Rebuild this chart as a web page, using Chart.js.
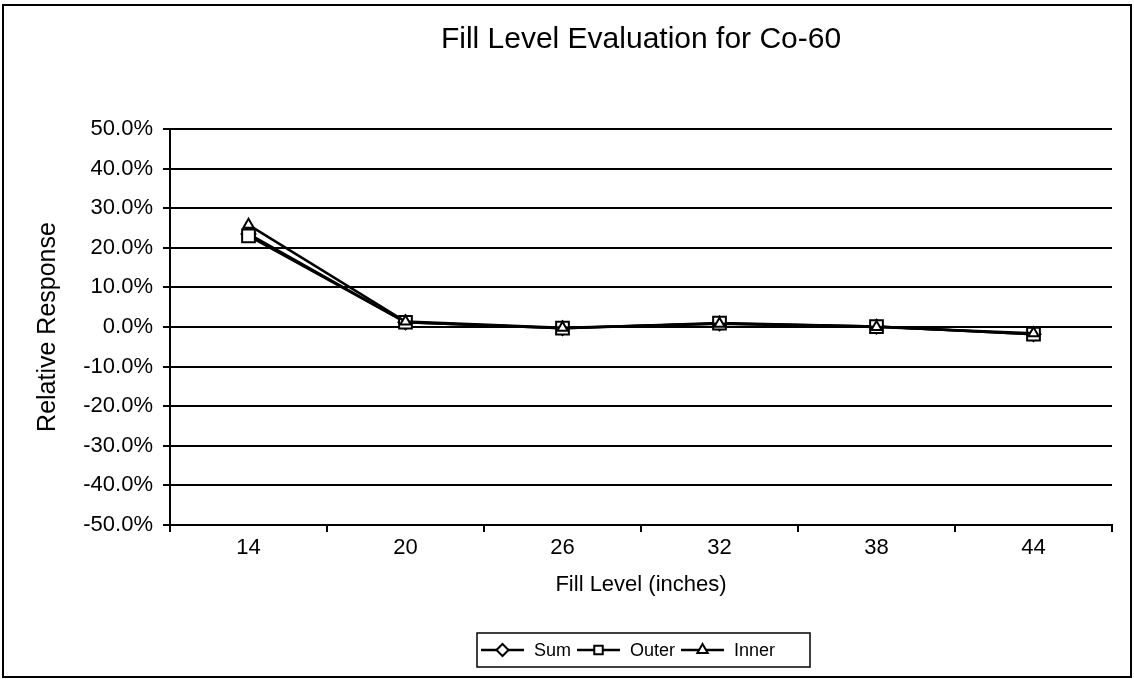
<!DOCTYPE html>
<html>
<head>
<meta charset="utf-8">
<script src="https://cdn.jsdelivr.net/npm/chart.js@4"></script>
<style>
  html, body { margin: 0; padding: 0; background: #fff; }
  #wrap { width: 1134px; height: 679px; }
</style>
</head>
<body>
<div id="wrap"><canvas id="chart" width="1134" height="679"></canvas></div>
<script>
// --- datos ---
const fillLevels = ['14', '20', '26', '32', '38', '44'];
const sumValues = [23.5, 1.2, -0.3, 0.9, 0.1, -1.8];
const outerValues = [23.0, 1.2, -0.3, 1.0, 0.1, -1.8];
const innerValues = [25.8, 1.4, -0.2, 0.8, 0.0, -1.6];
const yTicks = [-50, -40, -30, -20, -10, 0, 10, 20, 30, 40, 50];

const FONT = "'Liberation Sans', Arial, sans-serif";

// marco exterior + leyenda con línea y marcador
const framePlugin = {
    id: 'frame',
    afterDraw(chart) {
        const ctx = chart.ctx;
        ctx.save();
        ctx.strokeStyle = '#000';
        ctx.lineWidth = 2;
        ctx.strokeRect(3, 5, 1128, 672);

        // leyenda
        ctx.font = '18px ' + FONT;
        ctx.textBaseline = 'middle';
        const items = chart.data.datasets;
        const lineW = 43, gap = 10, sep = 6;
        const boxL = 477, boxR = 810, boxT = 633, boxB = 667;
        ctx.lineWidth = 1.5;
        ctx.strokeRect(boxL, boxT, boxR - boxL, boxB - boxT);
        let x = boxL + 4;
        const y = (boxT + boxB) / 2;
        items.forEach(d => {
            ctx.strokeStyle = '#000';
            ctx.lineWidth = 2.5;
            ctx.beginPath();
            ctx.moveTo(x, y);
            ctx.lineTo(x + lineW, y);
            ctx.stroke();
            ctx.fillStyle = '#fff';
            ctx.lineWidth = 2;
            Chart.helpers.drawPoint(ctx, {
                pointStyle: d.pointStyle, radius: 6, rotation: 0, borderWidth: 2
            }, x + lineW / 2, y);
            ctx.fillStyle = '#000';
            ctx.fillText(d.label, x + lineW + gap, y + 1);
            x += lineW + gap + ctx.measureText(d.label).width + sep;
        });
        ctx.restore();
    }
};

const mkSet = (label, data, style, radius, order) => ({
    label: label,
    data: data,
    order: order,
    borderColor: '#000',
    borderWidth: 2.5,
    pointStyle: style,
    pointRadius: radius,
    pointBackgroundColor: '#fff',
    pointBorderColor: '#000',
    pointBorderWidth: 2,
    tension: 0
});

new Chart(document.getElementById('chart').getContext('2d'), {
    type: 'line',
    data: {
        labels: fillLevels,
        datasets: [
            mkSet('Sum', sumValues, 'rectRot', 7, 3),
            mkSet('Outer', outerValues, 'rect', 9, 2),
            mkSet('Inner', innerValues, 'triangle', 6, 1)
        ]
    },
    options: {
        responsive: false,
        animation: false,
        devicePixelRatio: 1,
        layout: { padding: { top: 0, left: 0, right: 22, bottom: 64 } },
        plugins: {
            legend: { display: false },
            tooltip: { enabled: false },
            title: {
                display: true,
                fullSize: false,
                text: 'Fill Level Evaluation for Co-60',
                color: '#000',
                font: { family: FONT, size: 30, weight: 'normal' },
                padding: { top: 22, bottom: 71 }
            }
        },
        scales: {
            x: {
                offset: true,
                grid: { display: true, offset: true, drawOnChartArea: false, color: '#000', lineWidth: 2, tickLength: 7 },
                border: { display: true, color: '#000', width: 2 },
                ticks: { color: '#000', padding: 3, font: { family: FONT, size: 22 } },
                title: {
                    display: true,
                    text: 'Fill Level (inches)',
                    color: '#000',
                    font: { family: FONT, size: 22 },
                    padding: { top: 0, bottom: 17 }
                },
                afterFit(scale) { scale.height = 90; }
            },
            y: {
                min: yTicks[0],
                max: yTicks[yTicks.length - 1],
                afterBuildTicks(scale) { scale.ticks = yTicks.map(v => ({ value: v })); },
                grid: { color: '#000', lineWidth: 2, tickLength: 7 },
                border: { display: true, color: '#000', width: 2 },
                ticks: {
                    color: '#000',
                    padding: 10,
                    font: { family: FONT, size: 22 },
                    callback: v => v.toFixed(1) + '%'
                },
                title: {
                    display: true,
                    text: 'Relative Response',
                    color: '#000',
                    font: { family: FONT, size: 25 },
                    padding: { top: 33, bottom: 0 }
                },
                afterFit(scale) { scale.width = 170; }
            }
        }
    },
    plugins: [framePlugin]
});
</script>
</body>
</html>
